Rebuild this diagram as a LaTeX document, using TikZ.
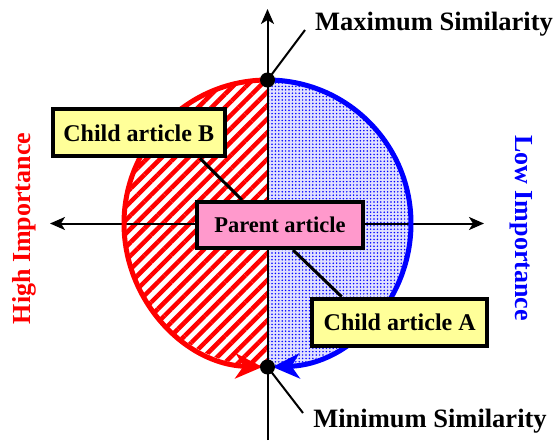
\documentclass[tikz,border=0pt]{standalone}
\usepackage{fontspec}
\setmainfont{Liberation Serif}
\usetikzlibrary{arrows.meta,patterns.meta,calc}
\definecolor{boxyellow}{RGB}{255,255,153}
\definecolor{boxpink}{RGB}{255,153,204}
\definecolor{dotbg}{RGB}{225,225,255}
\tikzset{
  axtip/.tip={Stealth[length=15pt,width=13pt,inset=4pt]},
  bigtip/.tip={Stealth[length=27pt,width=25pt,inset=8pt]},
  boxstyle/.style={draw=black,line width=4pt,inner sep=0pt,font=\fontsize{24}{28}\selectfont\bfseries},
  childbox/.style={boxstyle,fill=boxyellow},
  axisline/.style={line width=2pt,black},
  simlabel/.style={font=\fontsize{26.5}{30}\selectfont\bfseries,inner sep=0pt},
  implabel/.style={font=\fontsize{26}{30}\selectfont\bfseries,inner sep=0pt},
  connector/.style={line width=3pt,black},
  dotnode/.style={circle,fill=black,minimum size=15pt,inner sep=0pt}
}
\begin{document}
\begin{tikzpicture}[x=1pt,y=1pt]
\useasboundingbox (0,0) rectangle (560,440);
% fills
\fill[white] (267.5,360) arc[start angle=90,end angle=270,radius=143.5] -- cycle;
\fill[pattern={Lines[angle=45,distance=9.5pt,line width=4.5pt]},pattern color=red]
  (267.5,360) arc[start angle=90,end angle=270,radius=143.5] -- cycle;
\fill[dotbg] (267.5,360) arc[start angle=90,end angle=-90,radius=143.5] -- cycle;
\fill[pattern={Dots[distance=3.4pt,radius=0.85pt]},pattern color=blue]
  (267.5,360) arc[start angle=90,end angle=-90,radius=143.5] -- cycle;
% axes
\coordinate (ax1) at (50,216.5);
\coordinate (ax2) at (484,216.5);
\coordinate (ay1) at (267.5,0);
\coordinate (ay2) at (267.5,431);
\draw[axisline,axtip-axtip] (ax1) -- (ax2);
\draw[axisline,-axtip] (ay1) -- (ay2);
% arcs
\draw[red,line width=5pt,-bigtip] (267.5,360) arc[start angle=90,end angle=268,radius=143.5];
\draw[blue,line width=5pt,-bigtip] (267.5,360) arc[start angle=90,end angle=-88,radius=143.5];
% dots
\node[dotnode] (top) at (267.5,360) {};
\node[dotnode] (bot) at (267.5,73) {};
% similarity labels
\node[simlabel] (maxl) at (434,416) {Maximum Similarity};
\node[simlabel] (minl) at (430,19) {Minimum Similarity};
\coordinate (mxe) at (305,410);
\coordinate (mne) at (303,27);
\draw[line width=2pt] (top.center) -- (mxe);
\draw[line width=2pt] (bot.center) -- (mne);
% boxes
\node[childbox,minimum width=172pt,minimum height=47pt] (B) at (138.7,307.2) {Child article B};
\node[boxstyle,fill=boxpink,minimum width=166pt,minimum height=46pt,font=\fontsize{22.5}{26}\selectfont\bfseries] (P) at (280,215) {Parent article};
\node[childbox,minimum width=175pt,minimum height=47.5pt] (A) at (399.7,117.5) {Child article A};
\draw[connector] ([xshift=61.3pt]B.south) -- ([xshift=-38pt]P.north);
\draw[connector] ([xshift=13pt]P.south) -- ([xshift=-58pt]A.north);
% importance labels
\node[implabel,red,rotate=90] (hi) at (24,211.5) {High Importance};
\node[implabel,blue,rotate=-90] (lo) at (521.7,212) {Low Importance};
\end{tikzpicture}
\end{document}
